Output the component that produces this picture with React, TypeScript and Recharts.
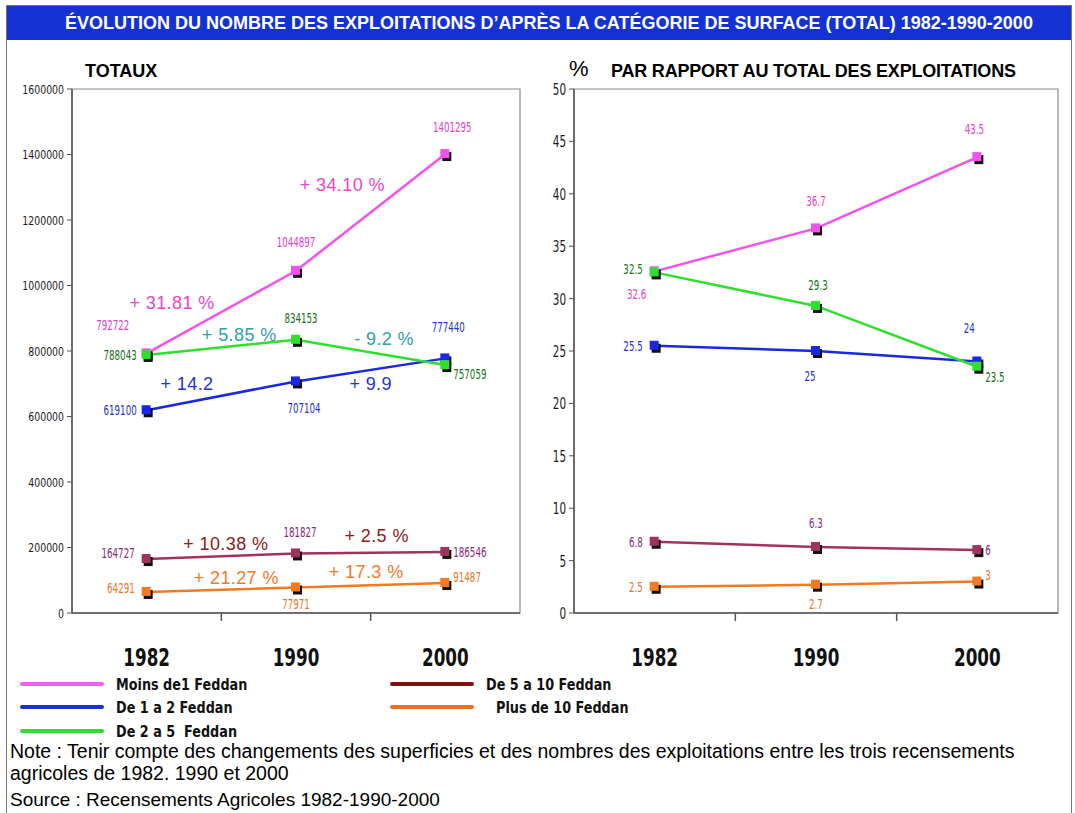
import React from 'react';
import { LineChart, Line, XAxis, YAxis, ReferenceArea, ReferenceDot, LabelList } from 'recharts';

const years = ['1982', '1990', '2000'];

// nombre total des exploitations
const moinsTotal = [792722, 1044897, 1401295];
const de1a2Total = [619100, 707104, 777440];
const de2a5Total = [788043, 834153, 757059];
const de5a10Total = [164727, 181827, 186546];
const plus10Total = [64291, 77971, 91487];

// % par rapport au total
const moinsPct = [32.6, 36.7, 43.5];
const de1a2Pct = [25.5, 25, 24];
const de2a5Pct = [32.5, 29.3, 23.5];
const de5a10Pct = [6.8, 6.3, 6];
const plus10Pct = [2.5, 2.7, 3];

const totalTicks = [0, 200000, 400000, 600000, 800000, 1000000, 1200000, 1400000, 1600000];
const pctTicks = [0, 5, 10, 15, 20, 25, 30, 35, 40, 45, 50];

// variations entre recensements (texte, position en unités du graphique)
const changeTexts = ['+ 31.81 %', '+ 34.10 %', '+ 5.85 %', '- 9.2 %', '+ 14.2', '+ 9.9', '+ 10.38 %', '+ 2.5 %', '+ 21.27 %', '+ 17.3 %'];
const changeX = [0.67, 1.81, 1.12, 2.09, 0.77, 2.0, 1.03, 2.04, 1.1, 1.97];
const changeY = [946000, 1306000, 849000, 837000, 699000, 699000, 211000, 235000, 107000, 125000];
const changeColors = ['#e846cc', '#e846cc', '#2fa0a8', '#2fa0a8', '#2336c8', '#2336c8', '#8a1c22', '#8a1c22', '#f07a28', '#f07a28'];

const COND = "'DejaVu Sans', sans-serif";
const ARIAL = "'Liberation Sans', Arial, sans-serif";

type Place = [number, number, 'start' | 'middle' | 'end'];

const series = [
  { key: 'moins', name: 'Moins de1 Feddan', color: '#f452ea', text: '#e040c8', legend: '#f060e8',
    total: moinsTotal, pct: moinsPct,
    placeTotal: [[-34, -28, 'middle'], [0, -29, 'middle'], [7, -27, 'middle']] as Place[],
    placePct: [[-18, 23, 'middle'], [0, -27, 'middle'], [-3, -28, 'middle']] as Place[] },
  { key: 'de1a2', name: 'De 1 a 2 Feddan', color: '#1a28e6', text: '#2233cc', legend: '#1a30d8',
    total: de1a2Total, pct: de1a2Pct,
    placeTotal: [[-10, 0, 'end'], [8, 27, 'middle'], [3, -31, 'middle']] as Place[],
    placePct: [[-12, 0, 'end'], [-6, 25, 'middle'], [-8, -33, 'middle']] as Place[] },
  { key: 'de2a5', name: 'De 2 a 5  Feddan', color: '#2ee02e', text: '#17701a', legend: '#2ee02e',
    total: de2a5Total, pct: de2a5Pct,
    placeTotal: [[-10, 0, 'end'], [5, -22, 'middle'], [8, 9, 'start']] as Place[],
    placePct: [[-12, -3, 'end'], [2, -21, 'middle'], [8, 10, 'start']] as Place[] },
  { key: 'de5a10', name: 'De 5 a 10 Feddan', color: '#a0325e', text: '#7f2a78', legend: '#7c1212',
    total: de5a10Total, pct: de5a10Pct,
    placeTotal: [[-12, -6, 'end'], [4, -21, 'middle'], [8, 0, 'start']] as Place[],
    placePct: [[-12, 0, 'end'], [0, -24, 'middle'], [8, 0, 'start']] as Place[] },
  { key: 'plus10', name: 'Plus de 10 Feddan', color: '#f47a22', text: '#e8741e', legend: '#ee7020',
    total: plus10Total, pct: plus10Pct,
    placeTotal: [[-12, -4, 'end'], [0, 17, 'middle'], [8, -6, 'start']] as Place[],
    placePct: [[-12, 0, 'end'], [0, 19, 'middle'], [8, -6, 'start']] as Place[] },
];

const totalRows = years.map((y, i) => {
  const row: any = { pos: i + 0.5, year: y };
  series.forEach((s) => (row[s.key] = s.total[i]));
  return row;
});
const pctRows = years.map((y, i) => {
  const row: any = { pos: i + 0.5, year: y };
  series.forEach((s) => (row[s.key] = s.pct[i]));
  return row;
});

// texte étroit : la police condensée n'existe pas, on comprime horizontalement
function NarrowText({ x, y, anchor = 'middle', size, sx, color, weight, children }: any) {
  return (
    <text transform={`translate(${x},${y}) scale(${sx},1)`} textAnchor={anchor} dominantBaseline="central"
      fontFamily={COND} fontSize={size} fontWeight={weight} fill={color}>
      {children}
    </text>
  );
}

function Marker(props: any) {
  const { cx, cy, color } = props;
  if (cx == null || cy == null) return null;
  return (
    <g>
      <rect x={cx - 3} y={cy - 2} width={9} height={9} fill="#111" />
      <rect x={cx - 5} y={cy - 5} width={9} height={9} fill={color} />
    </g>
  );
}

function YearTick(props: any) {
  const { x, y, payload } = props;
  const v = payload.value;
  if (Number.isInteger(v)) {
    if (v === 0 || v === 3) return <g />;
    return <line x1={x} y1={y} x2={x} y2={y + 8} stroke="#555" strokeWidth={1.5} />;
  }
  return (
    <NarrowText x={x} y={y + 45} size={24} sx={0.7} weight="bold" color="#111">
      {years[Math.floor(v)]}
    </NarrowText>
  );
}

function makeYTick(size: number, sx: number) {
  return (p: any) => (
    <NarrowText x={p.x} y={p.y} anchor="end" size={size} sx={sx} color="#1a1a1a">
      {p.payload.value}
    </NarrowText>
  );
}

function makeLabel(place: Place[], color: string) {
  return (p: any) => {
    const [dx, dy, anchor] = place[p.index] || [0, -15, 'middle'];
    return (
      <NarrowText x={p.x + dx} y={p.y + dy} anchor={anchor} size={14} sx={0.62} color={color}>
        {p.value}
      </NarrowText>
    );
  };
}

function Panel({ rows, which, max, ticks, width, yWidth, right, tickSize, tickSx, showChanges }: any) {
  return (
    <LineChart width={width} height={640} data={rows} margin={{ top: 29, right, bottom: 0, left: 10 }}>
      <ReferenceArea x1={0} x2={3} y1={0} y2={max} fill="none" stroke="#8a8a8a" strokeWidth={1.2} ifOverflow="visible" />
      <XAxis dataKey="pos" type="number" domain={[0, 3]} ticks={[0.5, 1, 1.5, 2, 2.5]} interval={0}
        tick={<YearTick />} tickLine={false} tickSize={0} tickMargin={0} height={87}
        axisLine={{ stroke: '#555', strokeWidth: 1.5 }} />
      <YAxis type="number" domain={[0, max]} ticks={ticks} interval={0} width={yWidth}
        tick={makeYTick(tickSize, tickSx)} tickSize={5} tickMargin={3}
        tickLine={{ stroke: '#555' }} axisLine={{ stroke: '#555', strokeWidth: 1.5 }} />
      {series.map((s) => (
        <Line key={s.key} dataKey={s.key} type="linear" stroke={s.color} strokeWidth={2.5}
          isAnimationActive={false}
          dot={(p: any) => <Marker key={`${s.key}-${p.index}`} cx={p.cx} cy={p.cy} color={s.color} />}
          activeDot={false}>
          <LabelList dataKey={s.key} content={makeLabel(which === 'total' ? s.placeTotal : s.placePct, s.text)} />
        </Line>
      ))}
      {showChanges &&
        changeTexts.map((t, i) => (
          <ReferenceDot key={t + i} x={changeX[i]} y={changeY[i]} r={0} ifOverflow="visible"
            shape={(p: any) => (
              <text x={p.cx} y={p.cy} textAnchor="middle" dominantBaseline="central"
                fontFamily={ARIAL} fontSize={18} letterSpacing={0.4} fill={changeColors[i]}>
                {t}
              </text>
            )} />
        ))}
    </LineChart>
  );
}

const legendPos = [
  { left: 20, top: 676 },
  { left: 20, top: 699 },
  { left: 20, top: 723 },
  { left: 390, top: 676 },
  { left: 390, top: 699 },
];

export default function App() {
  return (
    <div style={{ position: 'absolute', left: 0, top: 0, width: 1075, height: 813, background: '#fff', overflow: 'hidden', fontFamily: ARIAL }}>
      <div style={{ position: 'absolute', left: 6, top: 5, width: 1064, height: 830, border: '1px solid #777' }} />
      <div style={{ position: 'absolute', left: 7, top: 6, width: 1044, paddingLeft: 20, height: 34, background: '#1432d4', color: '#fff',
        fontWeight: 'bold', fontSize: 18, lineHeight: '34px', textAlign: 'center', whiteSpace: 'nowrap' }}>
        ÉVOLUTION DU NOMBRE DES EXPLOITATIONS D’APRÈS LA CATÉGORIE DE SURFACE (TOTAL) 1982-1990-2000
      </div>
      <div style={{ position: 'absolute', left: 85, top: 61, fontWeight: 'bold', fontSize: 18 }}>TOTAUX</div>
      <div style={{ position: 'absolute', left: 569, top: 56, fontSize: 22 }}>%</div>
      <div style={{ position: 'absolute', left: 611, top: 61, fontWeight: 'bold', fontSize: 18, letterSpacing: -0.2, whiteSpace: 'nowrap' }}>
        PAR RAPPORT AU TOTAL DES EXPLOITATIONS
      </div>

      <div style={{ position: 'absolute', left: 0, top: 60 }}>
        <Panel rows={totalRows} which="total" max={1600000} ticks={totalTicks} width={540} yWidth={62} right={20}
          tickSize={13} tickSx={0.72} showChanges />
      </div>
      <div style={{ position: 'absolute', left: 520, top: 60 }}>
        <Panel rows={pctRows} which="pct" max={50} ticks={pctTicks} width={555} yWidth={44} right={17}
          tickSize={16} tickSx={0.65} showChanges={false} />
      </div>

      {series.map((s, i) => (
        <div key={s.key} style={{ position: 'absolute', left: legendPos[i].left, top: legendPos[i].top, height: 16, display: 'flex', alignItems: 'center' }}>
          <div style={{ width: 84, height: 4, background: s.legend, borderRadius: 2 }} />
          <div style={{ marginLeft: i === 4 ? 22 : 12, fontFamily: COND, fontWeight: 'bold', fontSize: 16, color: '#111',
            whiteSpace: 'pre', transform: 'scaleX(0.8)', transformOrigin: 'left center' }}>{s.name}</div>
        </div>
      ))}

      <div style={{ position: 'absolute', left: 10, top: 740, fontSize: 19.5, lineHeight: '22px', color: '#000', whiteSpace: 'nowrap' }}>
        Note : Tenir compte des changements des superficies et des nombres des exploitations entre les trois recensements<br />
        agricoles de 1982. 1990 et 2000
      </div>
      <div style={{ position: 'absolute', left: 10, top: 789, fontSize: 19, lineHeight: '22px', color: '#000', whiteSpace: 'nowrap' }}>
        Source : Recensements Agricoles 1982-1990-2000
      </div>
    </div>
  );
}
